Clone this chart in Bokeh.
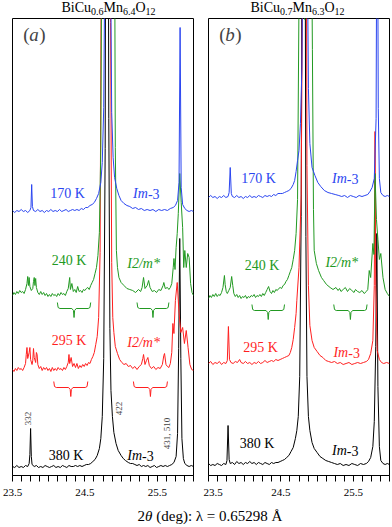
from bokeh.plotting import figure
from bokeh.layouts import column, row
from bokeh.models import Div, FixedTicker, Range1d, Label
from bokeh.embed import file_html
from bokeh.resources import INLINE

FONT = "Liberation Serif"
BLUE = "#2a45f0"
GREEN = "#229922"
RED = "#ff1f1f"
BLACK = "#000000"

# ---------------- data: panel (a) BiCu0.6Mn6.4O12 ----------------
# (2theta, intensity above baseline)
a380 = [(23.50,2),(23.53,1),(23.56,3),(23.59,1),(23.62,2),(23.65,1),(23.68,3),(23.71,2),(23.73,5),(23.74,14),
        (23.75,40),(23.76,12),(23.77,4),(23.80,2),(23.83,3),(23.86,1),(23.89,2),(23.92,1),(23.95,3),(23.98,2),
        (24.01,1),(24.04,2),(24.07,3),(24.10,1),(24.13,2),(24.16,1),(24.19,3),(24.22,2),(24.25,1),(24.28,3),
        (24.31,2),(24.34,2),(24.37,3),(24.40,2),(24.43,3),(24.46,2),(24.49,3),(24.52,4),(24.55,4),(24.58,5),
        (24.61,7),(24.64,9),(24.67,13),(24.70,20),(24.72,30),(24.74,52),(24.76,110),(24.78,320),(24.795,900),
        (24.805,1400),(24.815,900),(24.83,350),(24.845,140),(24.86,78),(24.88,52),(24.90,36),(24.93,25),(24.96,18),
        (25.00,13),(25.03,10),(25.06,8),(25.10,6),(25.13,5),(25.16,5),(25.19,4),(25.22,3),(25.25,4),(25.28,2),
        (25.31,3),(25.34,2),(25.37,3),(25.40,1),(25.43,2),(25.46,3),(25.49,1),(25.52,2),(25.55,3),(25.58,2),
        (25.61,3),(25.64,2),(25.67,3),(25.70,4),(25.73,6),(25.76,12),(25.78,35),(25.795,120),(25.81,230),
        (25.825,110),(25.84,30),(25.86,10),(25.88,5),(25.91,3),(25.94,2),(25.97,3),(26.00,2)]
a295 = [(23.50,3),(23.52,1),(23.54,4),(23.56,2),(23.58,5),(23.60,3),(23.62,4),(23.64,2),(23.66,5),(23.68,9),
        (23.69,18),(23.70,25),(23.71,14),(23.73,20),(23.74,25),(23.75,13),(23.77,8),(23.78,12),(23.79,24),(23.80,15),
        (23.82,10),(23.83,20),(23.84,18),(23.85,8),(23.87,4),(23.89,6),(23.91,2),(23.93,5),(23.95,3),(23.97,5),
        (23.99,2),(24.01,4),(24.03,1),(24.05,5),(24.07,2),(24.09,4),(24.11,2),(24.13,5),(24.15,3),(24.17,4),
        (24.19,2),(24.21,5),(24.23,3),(24.25,6),(24.27,10),(24.28,18),(24.29,9),(24.31,15),(24.33,6),(24.35,9),
        (24.37,5),(24.39,9),(24.41,4),(24.43,7),(24.45,5),(24.47,8),(24.49,6),(24.51,9),(24.53,7),(24.55,10),
        (24.57,9),(24.59,13),(24.61,16),(24.63,20),(24.65,28),(24.67,36),(24.69,55),(24.71,120),(24.725,400),
        (24.74,500),(24.76,420),(24.78,400),(24.80,420),(24.82,450),(24.84,550),(24.855,350),(24.87,110),
        (24.885,55),(24.90,40),(24.92,26),(24.95,19),(24.98,13),(25.01,10),(25.04,8),(25.07,9),(25.10,6),
        (25.13,7),(25.16,4),(25.19,6),(25.22,3),(25.25,6),(25.28,8),(25.30,14),(25.31,18),(25.33,8),(25.35,12),
        (25.37,15),(25.39,7),(25.42,4),(25.45,6),(25.48,3),(25.51,5),(25.54,4),(25.57,8),(25.59,17),(25.60,19),
        (25.62,8),(25.64,6),(25.66,5),(25.68,9),(25.70,20),(25.715,49),(25.73,39),(25.75,72),(25.775,90),
        (25.80,60),(25.825,40),(25.85,45),(25.875,29),(25.90,42),(25.925,25),(25.95,8),(25.975,3),(26.00,2)]
a240 = [(23.50,2),(23.52,5),(23.54,3),(23.56,6),(23.58,4),(23.60,7),(23.62,5),(23.64,6),(23.66,4),(23.68,8),
        (23.70,14),(23.71,21),(23.72,12),(23.73,20),(23.74,11),(23.76,7),(23.78,9),(23.79,16),(23.80,20),(23.81,12),
        (23.82,19),(23.83,10),(23.85,5),(23.87,3),(23.89,6),(23.91,3),(23.93,5),(23.95,2),(23.97,4),(23.99,1),
        (24.01,3),(24.03,1),(24.05,4),(24.07,2),(24.09,3),(24.11,1),(24.13,4),(24.15,2),(24.17,5),(24.19,3),
        (24.21,4),(24.23,2),(24.25,6),(24.27,9),(24.29,20),(24.30,8),(24.32,14),(24.34,6),(24.36,8),(24.38,5),
        (24.40,11),(24.42,6),(24.44,7),(24.46,5),(24.48,8),(24.50,7),(24.52,9),(24.54,10),(24.56,8),(24.58,12),
        (24.60,15),(24.62,18),(24.64,24),(24.66,30),(24.68,42),(24.70,65),(24.72,150),(24.735,400),(24.75,600),
        (24.77,350),(24.79,300),(24.81,350),(24.83,380),(24.85,450),(24.87,600),(24.89,700),(24.905,500),
        (24.92,150),(24.935,47),(24.95,30),(24.97,20),(25.00,15),(25.04,12),(25.08,9),(25.12,8),(25.16,7),
        (25.20,5),(25.24,8),(25.27,6),(25.29,10),(25.31,20),(25.33,9),(25.36,12),(25.38,17),(25.40,10),(25.43,6),
        (25.46,7),(25.49,5),(25.52,8),(25.55,7),(25.58,12),(25.59,15),(25.61,9),(25.64,10),(25.66,8),(25.68,10),
        (25.70,14),(25.72,30),(25.73,39),(25.745,28),(25.76,50),(25.775,64),(25.79,84),(25.81,124),(25.83,95),
        (25.85,70),(25.865,30),(25.88,47),(25.90,30),(25.92,44),(25.94,40),(25.96,14),(25.98,5),(26.00,2)]
a170 = [(23.50,2),(23.53,0),(23.56,2),(23.59,1),(23.62,3),(23.65,1),(23.68,2),(23.71,0),(23.74,2),(23.755,5),
        (23.765,28),(23.775,6),(23.79,2),(23.82,1),(23.85,3),(23.88,1),(23.91,2),(23.94,0),(23.97,2),(24.00,1),
        (24.03,3),(24.06,1),(24.09,2),(24.12,1),(24.15,3),(24.18,1),(24.21,2),(24.24,3),(24.27,1),(24.30,2),
        (24.33,3),(24.36,2),(24.39,3),(24.42,2),(24.45,4),(24.48,3),(24.51,5),(24.54,5),(24.57,7),(24.60,8),
        (24.63,10),(24.66,14),(24.69,19),(24.72,30),(24.74,50),(24.76,105),(24.78,300),(24.80,900),(24.815,1400),
        (24.83,850),(24.85,300),(24.87,100),(24.89,55),(24.91,35),(24.94,24),(24.97,17),(25.00,12),(25.04,9),
        (25.08,7),(25.12,6),(25.16,4),(25.20,5),(25.24,3),(25.28,4),(25.32,2),(25.36,3),(25.40,2),(25.44,3),
        (25.48,1),(25.52,3),(25.56,2),(25.60,3),(25.64,2),(25.68,4),(25.72,5),(25.75,7),(25.78,12),(25.80,30),
        (25.815,185),(25.83,25),(25.85,8),(25.88,4),(25.91,2),(25.94,1),(25.97,2),(26.00,1)]

# ---------------- data: panel (b) BiCu0.7Mn6.3O12 ----------------
b380 = [(23.50,3),(23.53,1),(23.56,2),(23.59,1),(23.62,3),(23.65,2),(23.68,1),(23.71,3),(23.74,2),(23.755,6),
        (23.77,41),(23.785,7),(23.80,3),(23.83,4),(23.86,2),(23.89,5),(23.92,3),(23.95,4),(23.98,2),(24.01,4),
        (24.04,3),(24.07,5),(24.10,3),(24.13,4),(24.16,2),(24.19,4),(24.22,3),(24.25,2),(24.28,4),(24.31,3),
        (24.34,2),(24.37,4),(24.40,3),(24.43,4),(24.46,4),(24.49,5),(24.52,6),(24.55,7),(24.58,9),(24.61,11),
        (24.64,15),(24.67,19),(24.70,28),(24.72,36),(24.74,50),(24.76,90),(24.78,250),(24.80,800),(24.815,1300),
        (24.83,700),(24.845,230),(24.86,90),(24.88,50),(24.90,36),(24.93,24),(24.96,18),(25.00,14),(25.04,10),
        (25.08,8),(25.12,6),(25.16,5),(25.20,4),(25.24,3),(25.28,2),(25.32,3),(25.36,1),(25.40,2),(25.44,1),
        (25.48,3),(25.52,2),(25.56,1),(25.60,3),(25.64,2),(25.68,3),(25.71,5),(25.74,9),(25.77,20),(25.79,45),
        (25.81,120),(25.825,233),(25.84,80),(25.86,20),(25.88,6),(25.91,3),(25.94,2),(25.97,3),(26.00,2)]
b295 = [(23.50,2),(23.53,4),(23.56,1),(23.59,3),(23.62,2),(23.65,4),(23.68,1),(23.71,3),(23.74,2),(23.76,5),
        (23.775,39),(23.79,6),(23.81,3),(23.84,2),(23.87,4),(23.90,3),(23.93,6),(23.95,3),(23.98,2),(24.01,4),
        (24.04,2),(24.07,3),(24.10,1),(24.13,3),(24.16,2),(24.19,4),(24.22,2),(24.25,3),(24.28,5),(24.31,3),
        (24.34,4),(24.37,5),(24.40,4),(24.43,6),(24.46,5),(24.49,6),(24.52,7),(24.55,8),(24.58,9),(24.61,10),
        (24.63,13),(24.65,18),(24.67,26),(24.69,38),(24.71,52),(24.72,65),(24.75,98),(24.78,170),(24.80,400),
        (24.83,1000),(24.86,200),(24.88,80),(24.90,40),(24.93,25),(24.96,18),(25.00,14),(25.04,10),(25.08,8),
        (25.12,5),(25.16,4),(25.20,3),(25.24,4),(25.28,2),(25.32,3),(25.36,1),(25.40,2),(25.44,3),(25.48,1),
        (25.52,2),(25.56,3),(25.60,2),(25.64,3),(25.68,4),(25.71,6),(25.74,12),(25.77,25),(25.79,80),(25.80,234),
        (25.81,80),(25.83,15),(25.86,6),(25.89,3),(25.92,2),(25.96,3),(26.00,2)]
b240 = [(23.50,1),(23.52,4),(23.54,2),(23.56,5),(23.58,3),(23.60,6),(23.62,3),(23.64,5),(23.66,4),(23.68,7),
        (23.70,12),(23.72,24),(23.73,15),(23.745,8),(23.76,6),(23.78,9),(23.80,12),(23.82,23),(23.835,14),(23.85,6),
        (23.87,3),(23.89,5),(23.91,2),(23.93,4),(23.95,1),(23.97,3),(23.99,2),(24.01,4),(24.03,1),(24.05,3),
        (24.07,2),(24.09,4),(24.11,3),(24.13,5),(24.15,2),(24.17,4),(24.19,3),(24.21,5),(24.23,3),(24.25,6),
        (24.27,4),(24.29,7),(24.31,10),(24.33,13),(24.35,8),(24.37,6),(24.39,9),(24.41,7),(24.43,10),(24.45,9),
        (24.47,11),(24.49,12),(24.51,11),(24.53,14),(24.55,15),(24.57,18),(24.59,20),(24.61,24),(24.63,28),
        (24.65,32),(24.67,40),(24.69,49),(24.71,66),(24.73,100),(24.75,300),(24.77,400),(24.80,300),(24.83,280),
        (24.86,300),(24.89,350),(24.92,400),(24.935,250),(24.95,90),(24.96,49),(24.99,36),(25.02,29),(25.06,22),
        (25.09,19),(25.13,15),(25.18,12),(25.22,10),(25.26,12),(25.29,9),(25.31,11),(25.33,8),(25.36,10),
        (25.39,12),(25.42,8),(25.45,11),(25.48,9),(25.51,7),(25.53,10),(25.56,8),(25.59,7),(25.62,9),(25.65,6),
        (25.68,8),(25.70,10),(25.72,29),(25.74,22),(25.77,56),(25.785,45),(25.80,126),(25.82,80),(25.84,60),
        (25.86,40),(25.88,46),(25.91,22),(25.94,10),(25.97,6),(26.00,3)]
b170 = [(23.50,1),(23.53,3),(23.56,1),(23.59,2),(23.62,0),(23.65,2),(23.68,1),(23.71,3),(23.74,1),(23.77,2),
        (23.785,6),(23.80,31),(23.815,5),(23.83,2),(23.86,1),(23.89,3),(23.92,1),(23.95,2),(23.98,0),(24.01,2),
        (24.04,1),(24.07,3),(24.10,1),(24.13,2),(24.16,1),(24.19,3),(24.22,2),(24.25,1),(24.28,3),(24.31,2),
        (24.34,3),(24.37,2),(24.40,4),(24.43,3),(24.46,5),(24.49,5),(24.52,5),(24.55,6),(24.58,7),(24.61,8),
        (24.64,10),(24.67,14),(24.69,18),(24.71,27),(24.73,38),(24.75,48),(24.77,75),(24.79,130),(24.81,300),
        (24.83,800),(24.845,900),(24.86,300),(24.88,110),(24.90,55),(24.93,31),(24.97,23),(25.01,16),(25.05,12),
        (25.10,8),(25.15,6),(25.20,5),(25.25,4),(25.30,3),(25.34,2),(25.38,3),(25.42,1),(25.46,3),(25.50,2),
        (25.54,1),(25.58,3),(25.62,2),(25.66,3),(25.70,4),(25.73,7),(25.76,11),(25.79,20),(25.815,80),
        (25.83,400),(25.845,90),(25.86,20),(25.88,6),(25.91,3),(25.94,2),(25.97,3),(26.00,2)]

# baselines (vertical offsets of each pattern)
temps = ["380 K", "295 K", "240 K", "170 K"]
colors = [BLACK, RED, GREEN, BLUE]
offsets_a = [7, 103, 178, 263]
offsets_b = [9, 110, 176, 277]
series_a = [a380, a295, a240, a170]
series_b = [b380, b295, b240, b170]

# temperature / phase annotations: (x, y) in data space
temp_lbl_a = [(24.24, 20), (24.28, 135), (24.28, 215), (24.26, 282)]
phase_a = ["Im-3", "I2/m*", "I2/m*", "Im-3"]
phase_pos_a = [(25.29, 20), (25.31, 133), (25.31, 212), (25.37, 282)]
temp_lbl_b = [(24.17, 32), (24.22, 128), (24.24, 210), (24.19, 297)]
phase_b = ["Im-3", "Im-3", "I2/m*", "Im-3"]
phase_pos_b = [(25.41, 25), (25.43, 123), (25.34, 213), (25.41, 297)]

# reflection indices (panel a)
hkl_text = ["332", "422", "431, 510"]
hkl_pos = [(23.72, 57), (24.97, 67), (25.64, 42)]

# superstructure brackets: x-start, x-end, mid level, color index
br_a = [(24.12, 24.58, 167, 2), (25.22, 25.66, 167, 2), (24.07, 24.54, 88, 1), (25.17, 25.64, 88, 1)]
br_b = [(24.10, 24.55, 165, 2), (25.23, 25.69, 165, 2)]

MINOR = [23.625, 23.75, 23.875, 24.0, 24.125, 24.25, 24.375, 24.625, 24.75, 24.875, 25.0,
         25.125, 25.25, 25.375, 25.625, 25.75, 25.875, 26.0]


def make_panel(series, offsets, temp_pos, phases, phase_pos, brackets, letter, bl, br):
    p = figure(width=bl + 181 + br, height=487, x_range=Range1d(23.5, 26.0), y_range=Range1d(0, 457),
               output_backend="svg", toolbar_location=None, min_border_left=bl,
               min_border_right=br, min_border_top=0, min_border_bottom=30)
    p.yaxis.visible = False
    p.grid.visible = False
    p.outline_line_color = "black"
    p.outline_line_alpha = 1.0
    p.outline_line_width = 1
    p.background_fill_color = "white"
    p.border_fill_color = "white"
    ax = p.xaxis[0]
    ax.ticker = FixedTicker(ticks=[23.5, 24.5, 25.5], minor_ticks=MINOR)
    ax.major_tick_in = 0
    ax.major_tick_out = 6
    ax.minor_tick_in = 0
    ax.minor_tick_out = 6
    ax.major_tick_line_color = "black"
    ax.minor_tick_line_color = "black"
    ax.axis_line_color = "black"
    ax.major_label_text_font = FONT
    ax.major_label_text_font_size = "11px"
    ax.major_label_text_color = "black"
    ax.major_label_standoff = 7

    for pts, off, col in zip(series, offsets, colors):
        xs = [q[0] for q in pts]
        ys = [q[1] + off for q in pts]
        p.line(xs, ys, line_color=col, line_width=1)

    for (x, y), t, col in zip(temp_pos, temps, colors):
        p.add_layout(Label(x=x, y=y, text=t, text_font=FONT, text_font_size="14px", text_color=col,
                           text_align="center", text_baseline="middle"))
    for (x, y), t, col in zip(phase_pos, phases, colors):
        if t == "Im-3":
            p.add_layout(Label(x=x, y=y, text="Im", text_font=FONT, text_font_size="14px", text_color=col,
                               text_font_style="italic", text_align="right", text_baseline="middle"))
            p.add_layout(Label(x=x, y=y, text="-3", text_font=FONT, text_font_size="14px", text_color=col,
                               text_align="left", text_baseline="middle"))
        else:
            p.add_layout(Label(x=x, y=y, text=t, text_font=FONT, text_font_size="14px", text_color=col,
                               text_font_style="italic", text_align="center", text_baseline="middle"))

    for x0, x1, ym, ci in brackets:
        xc = (x0 + x1) / 2
        bx = [x0, x0 + 0.01, x0 + 0.035, xc - 0.03, xc - 0.008, xc, xc + 0.008, xc + 0.03, x1 - 0.035, x1 - 0.01, x1]
        by = [ym + 6, ym + 1, ym, ym, ym - 2, ym - 9, ym - 2, ym, ym, ym + 1, ym + 6]
        p.line(bx, by, line_color=colors[ci], line_width=1)

    # panel letter "(a)" / "(b)"
    p.add_layout(Label(x=23.65, y=441, text="(", text_font=FONT, text_font_size="19px",
                       text_align="left", text_baseline="middle"))
    p.add_layout(Label(x=23.65, y=441, x_offset=6, text=letter, text_font=FONT, text_font_size="19px",
                       text_font_style="italic", text_align="left", text_baseline="middle"))
    p.add_layout(Label(x=23.65, y=441, x_offset=16, text=")", text_font=FONT, text_font_size="19px",
                       text_align="left", text_baseline="middle"))
    return p


pa = make_panel(series_a, offsets_a, temp_lbl_a, phase_a, phase_pos_a, br_a, "a", 12, 10)
pb = make_panel(series_b, offsets_b, temp_lbl_b, phase_b, phase_pos_b, br_b, "b", 5, 3)

for (x, y), t in zip(hkl_pos, hkl_text):
    pa.add_layout(Label(x=x, y=y, text=t, text_font=FONT, text_font_size="9px", angle=90,
                        angle_units="deg", text_align="center", text_baseline="middle"))

SUB = "<span style='font-size:10px;position:relative;top:3px'>%s</span>"
title_style = {"font-family": FONT, "font-size": "14px", "color": "black", "text-align": "center",
               "line-height": "16px", "white-space": "nowrap", "overflow": "visible"}
ta = Div(text="BiCu" + SUB % "0.6" + "Mn" + SUB % "6.4" + "O" + SUB % "12",
         width=203, height=18, margin=(0, 0, 0, 0), styles=dict(title_style, **{"padding-left": "14px"}))
tb = Div(text="BiCu" + SUB % "0.7" + "Mn" + SUB % "6.3" + "O" + SUB % "12",
         width=189, height=18, margin=(0, 0, 0, 0), styles=dict(title_style, **{"padding-left": "0px"}))
xl = Div(text="2<i>&theta;</i> (deg): &lambda; = 0.65298 &Aring;", width=392, height=22, margin=(0, 0, 0, 0),
         styles={"font-family": FONT, "font-size": "15px", "color": "black", "text-align": "center",
                 "line-height": "22px", "white-space": "nowrap", "padding-left": "28px"})

layout = column(row(ta, tb), row(pa, pb), xl)
open("out.html", "w").write(file_html(layout, INLINE))
